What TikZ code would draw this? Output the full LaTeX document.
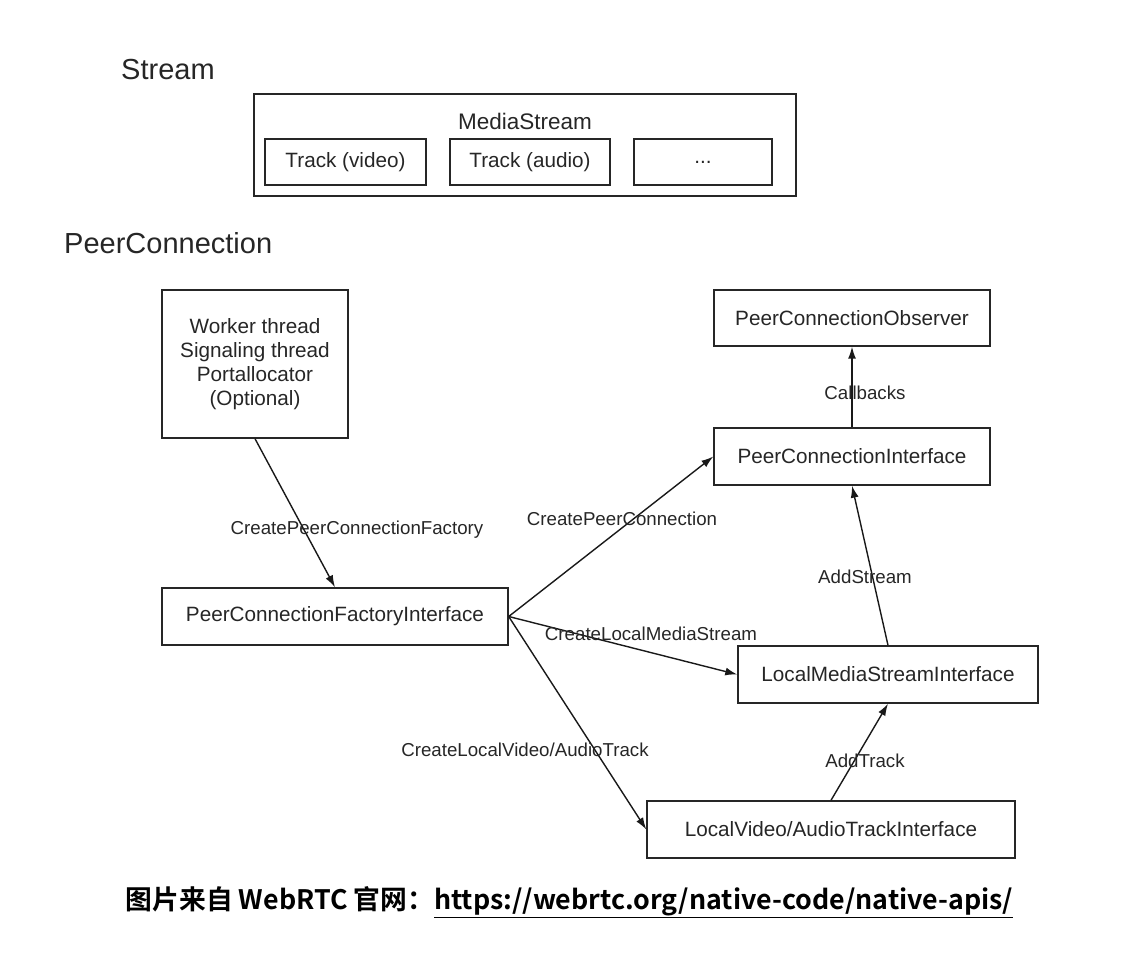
\documentclass[tikz,border=0pt]{standalone}
\usepackage{fontspec}
\setmainfont{Liberation Sans}
\newfontfamily\cjkbold{Noto Sans CJK SC Bold}
\usetikzlibrary{arrows.meta}

\begin{document}
\begin{tikzpicture}[
    x=1pt, y=-1pt,
    heading/.style={anchor=west, inner sep=0pt, text=black!85, font=\fontsize{29}{32}\selectfont},
    box/.style={rectangle, draw=black!85, line width=1.4pt, inner sep=0pt, text centered, text=black!85, font=\fontsize{20.7}{24}\selectfont},
    trackbox/.style={box, minimum width=161pt, minimum height=46pt},
    lbl/.style={inner sep=0pt, text=black!85, font=\fontsize{18.7}{22}\selectfont},
    arrow/.style={draw=black!90, line width=1.4pt, -{Latex[length=12pt,width=8pt]}}
]
\useasboundingbox (0,0) rectangle (1128,976);

% Stream part
\node[heading] (streamTitle) at (121,70) {Stream};
\node[box, minimum width=542pt, minimum height=102pt] (mediaStream) at (525,145) {};
\node[box, draw=none, font=\fontsize{22.5}{26}\selectfont] (mediaStreamLabel) at (525,121) {MediaStream};
\node[trackbox] (trackVideo) at (345.5,162) {Track (video)};
\node[trackbox, minimum width=160pt] (trackAudio) at (530,162) {Track (audio)};
\node[trackbox, minimum width=138pt] (trackMore) at (703,162) {...};

% PeerConnection part
\node[heading] (pcTitle) at (64,243) {PeerConnection};
\node[box, minimum width=186pt, minimum height=148pt, align=center] (threads) at (255,364)
    {Worker thread\\Signaling thread\\Portallocator\\(Optional)};
\node[box, minimum width=346pt, minimum height=57pt] (factory) at (335,616.5) {PeerConnectionFactoryInterface};
\node[box, minimum width=276pt, minimum height=56pt] (observer) at (852,318) {PeerConnectionObserver};
\node[box, minimum width=276pt, minimum height=57pt] (pcInterface) at (852,456.5) {PeerConnectionInterface};
\node[box, minimum width=300pt, minimum height=57pt] (localStream) at (888,674.5) {LocalMediaStreamInterface};
\node[box, minimum width=368pt, minimum height=57pt] (localTrack) at (831,829.5) {LocalVideo/AudioTrackInterface};

% Arrows
\draw[arrow] (threads.south) -- (factory.north);
\draw[arrow] (factory.east) -- (pcInterface.west);
\draw[arrow] (factory.east) -- (localStream.west);
\draw[arrow] (factory.east) -- (localTrack.west);
\draw[arrow] (pcInterface.north) -- (observer.south);
\draw[arrow] (localStream.north) -- (pcInterface.south);
\draw[arrow] (localTrack.north) -- (localStream.south);

% Arrow labels
\node[lbl] (lblFactory) at (357,530) {CreatePeerConnectionFactory};
\node[lbl] (lblPc) at (622,519) {CreatePeerConnection};
\node[lbl] (lblStream) at (651,634) {CreateLocalMediaStream};
\node[lbl] (lblTrack) at (525,750) {CreateLocalVideo/AudioTrack};
\node[lbl] (lblCallbacks) at (865,393) {Callbacks};
\node[lbl] (lblAddStream) at (865,577) {AddStream};
\node[lbl] (lblAddTrack) at (865,761) {AddTrack};

% Caption
\node[inner sep=0pt, font=\cjkbold\fontsize{26.8}{30}\selectfont] (caption) at (569.5,902)
    {图片来自 WebRTC 官网：\underline{https://webrtc.org/native-code/native-apis/}};
\end{tikzpicture}
\end{document}
